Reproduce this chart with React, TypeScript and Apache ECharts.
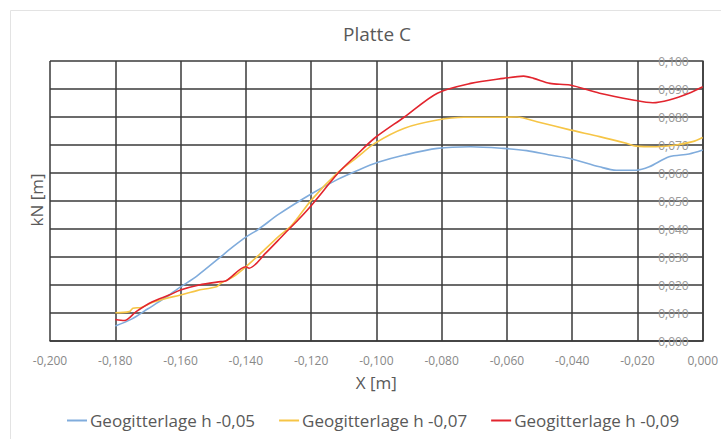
import React, { useEffect, useRef } from "react";
import * as echarts from "echarts";

const seriesNames = ["Geogitterlage h -0,05", "Geogitterlage h -0,07", "Geogitterlage h -0,09"];
const colors = ["#80acdc", "#f6c546", "#e2252e"];

const blueData: [number, number][] = [
  [-0.18, 0.0054], [-0.175, 0.0078], [-0.17, 0.0115], [-0.165, 0.0152], [-0.16, 0.0193],
  [-0.155, 0.0232], [-0.1483, 0.0295], [-0.144, 0.0336], [-0.14, 0.0371], [-0.136, 0.040],
  [-0.13, 0.0452], [-0.12, 0.0525], [-0.1117, 0.0578], [-0.1056, 0.061],
  [-0.0995, 0.0638], [-0.0914, 0.0664], [-0.0813, 0.0688], [-0.0711, 0.0694], [-0.061, 0.0688],
  [-0.0539, 0.068], [-0.0468, 0.0664], [-0.0407, 0.0652], [-0.0316, 0.0622], [-0.0265, 0.061],
  [-0.0204, 0.061], [-0.0164, 0.0622], [-0.0103, 0.0658], [-0.0042, 0.0668], [0.0, 0.0682],
];

const yellowData: [number, number][] = [
  [-0.18, 0.0101], [-0.1757, 0.0105], [-0.1746, 0.0117], [-0.172, 0.012], [-0.1685, 0.0138],
  [-0.1645, 0.0152], [-0.16, 0.0164], [-0.155, 0.018], [-0.149, 0.0194], [-0.1477, 0.0206],
  [-0.144, 0.0228], [-0.14, 0.0265], [-0.135, 0.0318], [-0.13, 0.0373], [-0.126, 0.0412],
  [-0.1198, 0.0505], [-0.1117, 0.0603], [-0.106, 0.0655], [-0.1005, 0.0706], [-0.0914, 0.076],
  [-0.0813, 0.0789], [-0.0732, 0.0799], [-0.063, 0.0799], [-0.0569, 0.080], [-0.0508, 0.0783],
  [-0.0407, 0.0754], [-0.0316, 0.073], [-0.0234, 0.0706], [-0.0204, 0.0696], [-0.0143, 0.0694],
  [-0.0082, 0.070], [-0.0031, 0.0712], [0.0, 0.0727],
];

const redData: [number, number][] = [
  [-0.18, 0.0077], [-0.1772, 0.0073], [-0.1736, 0.0105], [-0.1686, 0.014], [-0.1635, 0.0164],
  [-0.16, 0.0182], [-0.1543, 0.020], [-0.1477, 0.0212], [-0.1462, 0.0214], [-0.14, 0.0265],
  [-0.139, 0.026], [-0.134, 0.0313], [-0.128, 0.0385], [-0.124, 0.0432], [-0.1198, 0.0486],
  [-0.1117, 0.060], [-0.106, 0.0665], [-0.1005, 0.0725], [-0.0914, 0.080], [-0.0813, 0.0885],
  [-0.0711, 0.092], [-0.061, 0.0938], [-0.0549, 0.0946], [-0.0518, 0.0938], [-0.0468, 0.092],
  [-0.0407, 0.0914], [-0.0316, 0.0885], [-0.0214, 0.0861], [-0.0153, 0.0851], [-0.0103, 0.0861],
  [-0.0042, 0.0885], [0.0, 0.0908],
];

const fmt = (v: number) => v.toFixed(3).replace(".", ",");

export default function App() {
  const ref = useRef<HTMLDivElement>(null);
  useEffect(() => {
    if (!ref.current) return;
    const chart = echarts.init(ref.current, null, { renderer: "svg" });
    const font = "'Open Sans', 'Liberation Sans', sans-serif";
    const allData = [blueData, yellowData, redData];
    chart.setOption({
      animation: false,
      backgroundColor: "#ffffff",
      textStyle: { fontFamily: font },
      title: {
        text: "Platte C",
        left: 372,
        top: 19,
        textAlign: "center",
        textStyle: { fontSize: 19, fontWeight: "normal", color: "#595959", fontFamily: font },
      },
      graphic: [
        {
          type: "rect",
          shape: { x: 10.5, y: 10.5, width: 730, height: 450 },
          style: { fill: "none", stroke: "#e3e3e3", lineWidth: 1 },
          silent: true,
        },
        {
          type: "text",
          x: 36,
          y: 200,
          rotation: Math.PI / 2,
          style: {
            text: "kN [m]",
            fontSize: 17,
            fill: "#595959",
            fontFamily: font,
            textAlign: "center",
            textVerticalAlign: "middle",
          },
        },
      ],
      legend: {
        bottom: 5,
        left: 62,
        icon: "rect",
        itemWidth: 20,
        itemHeight: 2,
        itemGap: 24,
        textStyle: { fontSize: 17, color: "#595959", fontFamily: font, padding: [0, 0, 0, -2] },
        data: seriesNames,
      },
      grid: { left: 50, top: 61, right: 14, bottom: 98 },
      xAxis: {
        type: "value",
        min: -0.2,
        max: 0,
        interval: 0.02,
        name: "X [m]",
        nameLocation: "middle",
        nameGap: 33,
        nameTextStyle: { fontSize: 17, color: "#595959", fontFamily: font },
        axisLine: { show: true, lineStyle: { color: "#3a3a3a", width: 1.5 } },
        axisTick: { show: false },
        axisLabel: { fontSize: 12, color: "#888888", margin: 13, formatter: (v: number) => fmt(v), fontFamily: font },
        splitLine: { show: true, lineStyle: { color: "#3a3a3a", width: 1.5 } },
      },
      yAxis: {
        type: "value",
        position: "right",
        min: 0,
        max: 0.1,
        interval: 0.01,
        axisLine: { show: true, lineStyle: { color: "#3a3a3a", width: 1.5 } },
        axisTick: { show: false },
        axisLabel: {
          inside: true,
          margin: 14,
          fontSize: 12,
          color: "#999999",
          formatter: (v: number) => fmt(v),
          fontFamily: font,
        },
        splitLine: { show: true, lineStyle: { color: "#3a3a3a", width: 1.5 } },
      },
      series: seriesNames.map((name, i) => ({
        name,
        type: "line",
        data: allData[i],
        showSymbol: false,
        smooth: 0.3,
        color: colors[i],
        lineStyle: { width: 1.6, color: colors[i] },
        z: 3,
      })),
    });
    return () => chart.dispose();
  }, []);
  return (
    <div
      ref={ref}
      style={{ position: "absolute", left: 0, top: 0, width: 721, height: 439 }}
    />
  );
}
